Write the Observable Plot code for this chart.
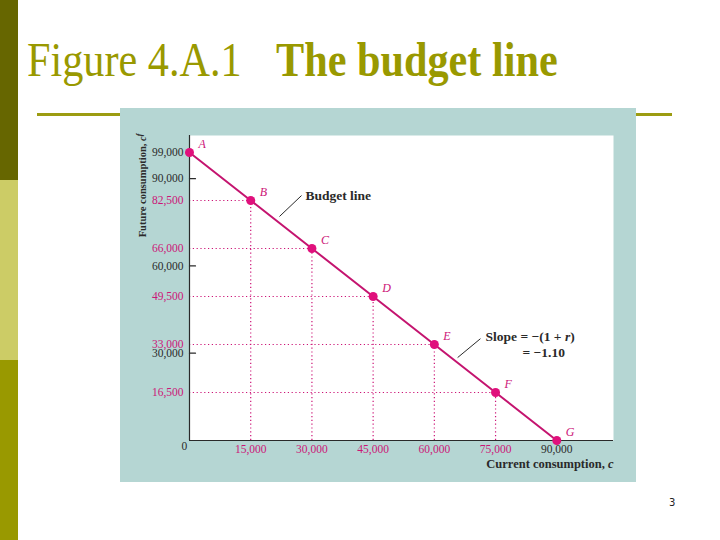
<!DOCTYPE html>
<html>
<head>
<meta charset="utf-8">
<script src="https://cdn.jsdelivr.net/npm/d3@7"></script>
<script src="https://cdn.jsdelivr.net/npm/@observablehq/plot@0.6"></script>
<style>
  body { margin: 0; background: #fff; }
  #slide { position: relative; width: 720px; height: 540px; overflow: hidden; font-family: "Liberation Serif", serif; }
  .bar { position: absolute; left: 0; width: 18px; }
  .title { position: absolute; top: 36px; font-size: 48px; line-height: 48px; color: #999900; white-space: nowrap; transform: scaleX(0.88); transform-origin: 0 0; }
  #rule { position: absolute; left: 37px; top: 113px; width: 635px; height: 3px; background: #9c9c12; }
  #panel { position: absolute; left: 120px; top: 108px; width: 516px; height: 374px; background: #b5d6d3; }
  #page { position: absolute; left: 669px; top: 497px; font: 10px "DejaVu Sans", sans-serif; color: #222; }
  #chart { position: absolute; left: 0; top: 0; }
</style>
</head>
<body>
<div id="slide">
  <div class="bar" style="top:0;height:180px;background:#666600"></div>
  <div class="bar" style="top:180px;height:180px;background:#cccc66"></div>
  <div class="bar" style="top:360px;height:180px;background:#999900"></div>
  <div class="title" style="left:27px">Figure 4.A.1</div>
  <div class="title" style="left:276px;font-weight:bold">The budget line</div>
  <div id="rule"></div>
  <div id="panel"></div>
  <div id="chart"></div>
  <div id="page">3</div>
</div>
<script>
// ---- data ----
const pointNames = ["A", "B", "C", "D", "E", "F", "G"];
const currentValues = [0, 15000, 30000, 45000, 60000, 75000, 90000];
const futureValues = [99000, 82500, 66000, 49500, 33000, 16500, 0];

const yTicksMagenta = [82500, 66000, 49500, 33000, 16500];
const yTicksDark = [99000, 90000, 60000, 30000];
const yTickMarks = [90000, 60000, 30000];
const xTicksMagenta = [15000, 30000, 45000, 60000, 75000];
const xTicksDark = [90000];
const xDomain = [0, 103900];
const yDomain = [0, 104840];

const noteTexts = ["Budget line", "Slope = −(1 + r)", "= −1.10"];
const noteX = [28400, 72550, 81600];
const noteY = [84200, 35750, 30250];
const leaderX1 = [22050, 65700];
const leaderY1 = [77000, 28500];
const leaderX2 = [27450, 71300];
const leaderY2 = [84200, 35000];

// ---- tables built from arrays ----
const points = pointNames.map((name, i) => ({name, current: currentValues[i], future: futureValues[i]}));
const guides = points.filter(d => d.current > 0 && d.future > 0);
const notes = noteTexts.map((t, i) => ({t, x: noteX[i], y: noteY[i]}));
const leaders = leaderX1.map((x1, i) => ({x1, y1: leaderY1[i], x2: leaderX2[i], y2: leaderY2[i]}));

const magenta = "#cc1577";
const dotColor = "#e0107c";
const lineColor = "#c4146f";
const dark = "#2a2a2a";
const fmt = d3.format(",");
const tickShape = {draw(context, l) { context.moveTo(0, 0); context.lineTo(0, -l); }};

const chart = Plot.plot({
  width: 720,
  height: 540,
  marginLeft: 189,
  marginRight: 107,
  marginTop: 135,
  marginBottom: 100,
  x: {domain: xDomain},
  y: {domain: yDomain},
  style: {fontFamily: "Liberation Serif", fontSize: "11px", background: "transparent", overflow: "visible"},
  marks: [
    Plot.frame({fill: "white", stroke: null}),
    Plot.ruleY(guides, {y: "future", x1: 0, x2: "current", stroke: magenta, strokeWidth: 1.2, strokeDasharray: "1.2,2.6"}),
    Plot.ruleX(guides, {x: "current", y1: 0, y2: "future", stroke: magenta, strokeWidth: 1.2, strokeDasharray: "1.2,2.6"}),
    Plot.ruleX([0], {stroke: dark, strokeWidth: 1.2}),
    Plot.ruleY([0], {stroke: dark, strokeWidth: 1.2}),
    Plot.vector(yTickMarks, {x: 0, y: d => d, length: 6, rotate: 90, anchor: "start", shape: tickShape, stroke: dark, strokeWidth: 1.2}),
    Plot.axisY({ticks: yTicksMagenta, tickSize: 0, tickPadding: 6, tickFormat: fmt, fill: magenta, label: null, fontSize: 11.5}),
    Plot.axisY({ticks: yTicksDark, tickSize: 0, tickPadding: 6, tickFormat: fmt, fill: dark, label: null, fontSize: 11.5}),
    Plot.axisX({ticks: xTicksMagenta, tickSize: 0, tickPadding: 4, tickFormat: fmt, fill: magenta, label: null, fontSize: 11.5}),
    Plot.axisX({ticks: xTicksDark, tickSize: 0, tickPadding: 4, tickFormat: fmt, fill: dark, label: null, fontSize: 11.5}),
    Plot.text(["0"], {frameAnchor: "bottom-left", dx: -8, dy: 9, fill: dark, fontSize: 11.5}),
    Plot.line(points, {x: "current", y: "future", stroke: lineColor, strokeWidth: 2}),
    Plot.dot(points, {x: "current", y: "future", r: 4.5, fill: dotColor, stroke: null}),
    Plot.text(points, {x: "current", y: "future", text: "name", dx: 9, dy: -8, textAnchor: "start", fontStyle: "italic", fill: magenta, fontSize: 12}),
    Plot.link(leaders, {x1: "x1", y1: "y1", x2: "x2", y2: "y2", stroke: dark, strokeWidth: 1}),
    Plot.text(notes, {x: "x", y: "y", text: "t", textAnchor: "start", fontWeight: "bold", fontSize: 13.5, fill: dark}),
    Plot.text(["Future consumption, c"], {frameAnchor: "top-left", dx: -51, dy: 50, rotate: -90, textAnchor: "middle", fontWeight: "bold", fontSize: 10.5, fill: dark}),
    Plot.text(["Current consumption, c"], {frameAnchor: "bottom-right", dx: 0, dy: 27, textAnchor: "end", fontWeight: "bold", fontSize: 12.5, fill: dark})
  ]
});

// rich-text touches: italic variables and superscript
const svg = d3.select(chart);
svg.selectAll("text").each(function() {
  const el = d3.select(this);
  const txt = this.textContent;
  if (txt === "Future consumption, c") {
    el.text("Future consumption, ");
    el.append("tspan").attr("font-style", "italic").text("c");
    el.append("tspan").attr("font-style", "italic").attr("font-size", 8).attr("dy", "-0.5em").text("f");
  } else if (txt === "Current consumption, c") {
    el.text("Current consumption, ");
    el.append("tspan").attr("font-style", "italic").text("c");
  } else if (txt === "Slope = −(1 + r)") {
    el.text("Slope = −(1 + ");
    el.append("tspan").attr("font-style", "italic").text("r");
    el.append("tspan").text(")");
  }
});

document.getElementById("chart").appendChild(chart);
</script>
</body>
</html>
